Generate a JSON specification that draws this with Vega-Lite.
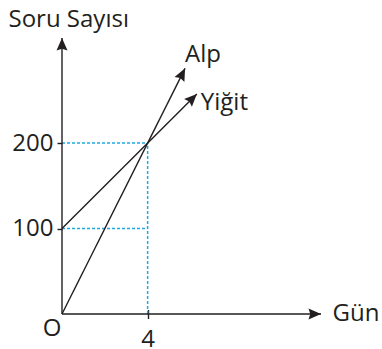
{
  "$schema": "https://vega.github.io/schema/vega-lite/v6.json",
  "autosize": {"type": "none"},
  "padding": {"left": 62, "top": 38, "right": 61, "bottom": 35},
  "width": 259,
  "height": 276,
  "background": "white",
  "config": {
    "view": {"stroke": null},
    "font": "Open Sans",
    "text": {"font": "Open Sans", "fontSize": 24, "color": "#231f20"}
  },
  "datasets": {
    "segments": [
      {"name": "y-axis", "kind": "axis", "x0": 0, "y0": 0, "x1": 0, "y1": 323},
      {"name": "x-axis", "kind": "axis", "x0": 0, "y0": 0, "x1": 12.1, "y1": 0},
      {"name": "Alp", "kind": "series", "x0": 0, "y0": 0, "x1": 5.75, "y1": 287.5},
      {"name": "Yiğit", "kind": "series", "x0": 0, "y0": 100, "x1": 6.3, "y1": 257.5},
      {"name": "h200", "kind": "guide", "x0": 0, "y0": 200, "x1": 4, "y1": 200},
      {"name": "h100", "kind": "guide", "x0": 0, "y0": 100, "x1": 4, "y1": 100},
      {"name": "v4", "kind": "guide", "x0": 4, "y0": 0, "x1": 4, "y1": 200}
    ],
    "heads": [
      {"name": "y-axis", "x": 0, "y": 323},
      {"name": "x-axis", "x": 12.1, "y": 0},
      {"name": "Alp", "x": 5.75, "y": 287.5},
      {"name": "Yiğit", "x": 6.3, "y": 257.5}
    ],
    "origin": [{"label": "O", "x": 0, "y": 0}]
  },
  "layer": [
    {
      "data": {"name": "segments"},
      "transform": [{"filter": "datum.kind === 'guide'"}],
      "mark": {"type": "rule", "color": "#1fa9e1", "strokeWidth": 1.5, "strokeDash": [3, 2]},
      "encoding": {
        "x": {"field": "x0", "type": "quantitative", "scale": {"domain": [0, 12.1], "nice": false, "zero": false},
          "axis": {"values": [4], "offset": -4.5, "tickSize": 9, "tickWidth": 1.4, "tickColor": "#231f20",
            "domain": false, "grid": false, "labelFont": "Open Sans", "labelFontSize": 24, "labelColor": "#231f20",
            "labelPadding": 8.5, "labelAngle": 0,
            "title": "Gün", "titleFont": "Open Sans", "titleFontSize": 24, "titleFontWeight": "normal", "titleColor": "#231f20",
            "titleAngle": 0, "titleAlign": "left", "titleBaseline": "alphabetic", "titleX": 270, "titleY": 10.5}},
        "x2": {"field": "x1"},
        "y": {"field": "y0", "type": "quantitative", "scale": {"domain": [0, 323], "nice": false, "zero": false},
          "axis": {"values": [100, 200], "tickSize": 5, "tickWidth": 1.4, "tickColor": "#231f20",
            "domain": false, "grid": false, "labelFont": "Open Sans", "labelFontSize": 24, "labelColor": "#231f20",
            "labelPadding": 4,
            "title": "Soru Sayısı", "titleFont": "Open Sans", "titleFontSize": 24, "titleFontWeight": "normal", "titleColor": "#231f20",
            "titleAngle": 0, "titleAlign": "left", "titleBaseline": "alphabetic", "titleX": -54, "titleY": -12}},
        "y2": {"field": "y1"}
      }
    },
    {
      "data": {"name": "segments"},
      "transform": [{"filter": "datum.kind !== 'guide'"}],
      "mark": {"type": "rule", "color": "#231f20", "strokeWidth": 1.4},
      "encoding": {
        "x": {"field": "x0", "type": "quantitative"},
        "x2": {"field": "x1"},
        "y": {"field": "y0", "type": "quantitative"},
        "y2": {"field": "y1"}
      }
    },
    {
      "data": {"name": "heads"},
      "transform": [{"filter": "datum.name === 'y-axis'"}],
      "mark": {"type": "point", "shape": "M0,0L-0.44,1L0,0.86L0.44,1Z", "size": 625, "filled": true, "color": "#231f20", "opacity": 1, "angle": 0},
      "encoding": {"x": {"field": "x", "type": "quantitative"}, "y": {"field": "y", "type": "quantitative"}}
    },
    {
      "data": {"name": "heads"},
      "transform": [{"filter": "datum.name === 'x-axis'"}],
      "mark": {"type": "point", "shape": "M0,0L-0.44,1L0,0.86L0.44,1Z", "size": 625, "filled": true, "color": "#231f20", "opacity": 1, "angle": 90},
      "encoding": {"x": {"field": "x", "type": "quantitative"}, "y": {"field": "y", "type": "quantitative"}}
    },
    {
      "data": {"name": "heads"},
      "transform": [{"filter": "datum.name === 'Alp'"}],
      "mark": {"type": "point", "shape": "M0,0L-0.44,1L0,0.86L0.44,1Z", "size": 625, "filled": true, "color": "#231f20", "opacity": 1, "angle": 26.6},
      "encoding": {"x": {"field": "x", "type": "quantitative"}, "y": {"field": "y", "type": "quantitative"}}
    },
    {
      "data": {"name": "heads"},
      "transform": [{"filter": "datum.name === 'Yiğit'"}],
      "mark": {"type": "point", "shape": "M0,0L-0.44,1L0,0.86L0.44,1Z", "size": 625, "filled": true, "color": "#231f20", "opacity": 1, "angle": 45},
      "encoding": {"x": {"field": "x", "type": "quantitative"}, "y": {"field": "y", "type": "quantitative"}}
    },
    {
      "data": {"name": "heads"},
      "transform": [{"filter": "datum.name === 'Alp'"}],
      "mark": {"type": "text", "align": "left", "baseline": "alphabetic", "dx": 0, "dy": -6.6},
      "encoding": {"x": {"field": "x", "type": "quantitative"}, "y": {"field": "y", "type": "quantitative"}, "text": {"field": "name"}}
    },
    {
      "data": {"name": "heads"},
      "transform": [{"filter": "datum.name === 'Yiğit'"}],
      "mark": {"type": "text", "align": "left", "baseline": "alphabetic", "dx": 4, "dy": 16.5},
      "encoding": {"x": {"field": "x", "type": "quantitative"}, "y": {"field": "y", "type": "quantitative"}, "text": {"field": "name"}}
    },
    {
      "data": {"name": "origin"},
      "mark": {"type": "text", "align": "right", "baseline": "alphabetic", "dx": -0.5, "dy": 22},
      "encoding": {"x": {"field": "x", "type": "quantitative"}, "y": {"field": "y", "type": "quantitative"}, "text": {"field": "label"}}
    }
  ]
}
